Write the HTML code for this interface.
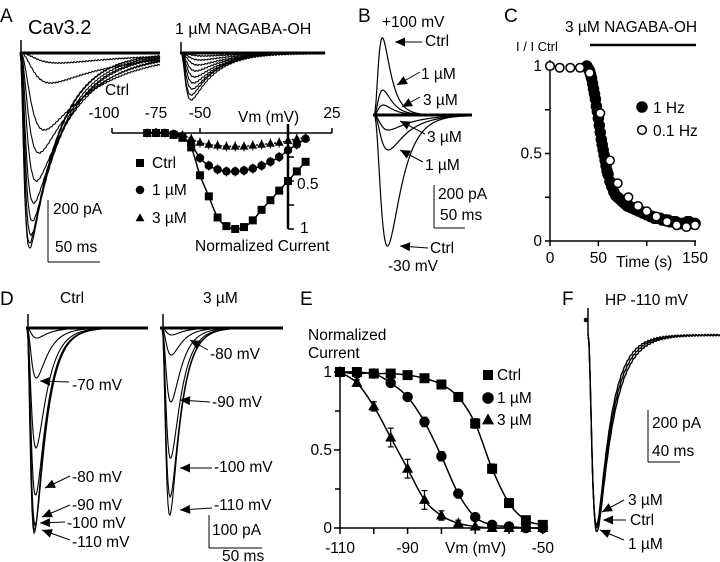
<!DOCTYPE html>
<html><head><meta charset="utf-8"><style>
html,body{margin:0;padding:0;background:#fff}
svg{display:block;font-family:"Liberation Sans",Arial,sans-serif}
text{fill:#000}
</style></head><body>
<svg id="fig" width="720" height="562" viewBox="0 0 720 562" xmlns="http://www.w3.org/2000/svg">
<g font-size="19">
<text x="0" y="22">A</text>
<text x="358" y="22">B</text>
<text x="504" y="22">C</text>
<text x="0" y="305">D</text>
<text x="300" y="305">E</text>
<text x="562" y="305">F</text>
</g>
<g font-size="15.5">
<text x="28" y="34" font-size="20">Cav3.2</text>
<text x="175" y="34" font-size="16">1 µM NAGABA-OH</text>
<text x="105" y="95">Ctrl</text>
<text x="53" y="214">200 pA</text>
<text x="55" y="252">50 ms</text>
<text x="238" y="122">Vm (mV)</text>
<text x="195" y="251">Normalized Current</text>
<text x="297" y="189">0.5</text>
<text x="300" y="233">1</text>
<text x="152" y="168">Ctrl</text>
<text x="152" y="195">1 µM</text>
<text x="152" y="223">3 µM</text>
</g>
<g font-size="15.5">
<text x="382" y="27">+100 mV</text>
<text x="425" y="46">Ctrl</text>
<text x="421" y="79">1 µM</text>
<text x="423" y="105">3 µM</text>
<text x="427" y="142">3 µM</text>
<text x="425" y="170">1 µM</text>
<text x="438" y="199">200 pA</text>
<text x="440" y="220">50 ms</text>
<text x="430" y="253">Ctrl</text>
<text x="388" y="271">-30 mV</text>
</g>
<g font-size="15.5">
<text x="565" y="32">3 µM NAGABA-OH</text>
<text x="516" y="51" font-size="13">I / I Ctrl</text>
<text x="653" y="113">1 Hz</text>
<text x="653" y="136">0.1 Hz</text>
<text x="616" y="267">Time (s)</text>
</g>
<g font-size="15.5">
<text x="60" y="303">Ctrl</text>
<text x="203" y="303">3 µM</text>
<text x="72" y="390">-70 mV</text>
<text x="72" y="482">-80 mV</text>
<text x="72" y="510">-90 mV</text>
<text x="67" y="528">-100 mV</text>
<text x="72" y="547">-110 mV</text>
<text x="210" y="359">-80 mV</text>
<text x="212" y="407">-90 mV</text>
<text x="214" y="472">-100 mV</text>
<text x="214" y="510">-110 mV</text>
<text x="212" y="535">100 pA</text>
<text x="222" y="561">50 ms</text>
</g>
<g font-size="15.5">
<text x="308" y="340">Normalized</text>
<text x="308" y="358">Current</text>
<text x="445" y="553">Vm (mV)</text>
<text x="497" y="380">Ctrl</text>
<text x="497" y="403">1 µM</text>
<text x="497" y="425">3 µM</text>
</g>
<g font-size="15.5">
<text x="605" y="305">HP -110 mV</text>
<text x="652" y="428">200 pA</text>
<text x="652" y="456">40 ms</text>
<text x="628" y="505">3 µM</text>
<text x="630" y="525">Ctrl</text>
<text x="628" y="549">1 µM</text>
</g>
</svg>
<script>
// ---- Panel A inset IV data (normalized current, 0..1) ----
const ivVolt = [-80,-75,-70,-65,-60,-55,-50,-45,-40,-35,-30,-25,-20,-15,-10,-5,0,5,10];
const ivCtrl = [0,0,0,0.02,0.05,0.15,0.44,0.66,0.88,0.97,1.0,0.98,0.91,0.8,0.7,0.6,0.5,0.4,0.3];
const iv1uM  = [0,0,0,0.01,0.04,0.12,0.26,0.34,0.38,0.4,0.4,0.39,0.37,0.34,0.3,0.25,0.18,0.12,0.06];
const iv3uM  = [0,0,0,0.01,0.02,0.06,0.1,0.12,0.13,0.14,0.14,0.14,0.13,0.12,0.11,0.1,0.08,0.06,0.05];
const ivTickLabels = ["-100","-75","-50","25"];
const ivTickVals = [-100,-75,-50,25];
// ---- Panel A trace families (peak amplitude px, time-to-peak px) ----
const aCtrlAmp = [195,190,182,168,150,128,100,77,30,10];
const aCtrlTp  = [6,6,7,8,9,11,13,17,22,28];
const a1Amp = [47,42,36,30,24,18,12,7,3];
const a1Tp  = [7,7,8,9,10,11,13,15,18];
// ---- Panel B ----
const bUpAmp = [77,25,10];
const bDownAmp = [131,35,15];
// ---- Panel C time course ----
const cOpenT = [0,10,21,31,41,52,62,70,81,91,100,110,121,131,141,150];
const cOpenV = [1,0.99,0.99,0.99,0.96,0.73,0.46,0.33,0.25,0.2,0.17,0.14,0.11,0.09,0.08,0.09];
const cFillT = [38,39,40,41,42,43,44,45,46,47,48,49,50,51,52,53,54,55,56,57,58,59,60,62,64,66,68,70,72,74,76,78,80,82,84,86,88,90,92,94,96,98,100,102,104,106,108,110,112,114,116,118,120,122,124,126,128,130,132,134,136,138,140,142,144,146,148,150];
const cFillV = [1,0.99,0.98,0.97,0.95,0.93,0.9,0.87,0.84,0.81,0.77,0.74,0.7,0.66,0.62,0.58,0.55,0.52,0.49,0.46,0.43,0.4,0.38,0.34,0.31,0.28,0.26,0.25,0.24,0.23,0.22,0.21,0.2,0.2,0.19,0.19,0.18,0.18,0.17,0.17,0.16,0.16,0.15,0.15,0.14,0.14,0.13,0.13,0.13,0.13,0.12,0.12,0.12,0.12,0.11,0.11,0.11,0.11,0.1,0.1,0.1,0.1,0.1,0.11,0.11,0.1,0.1,0.1];
const cXTicks = [0,50,150];
const cYTicks = [0,0.5,1];
// ---- Panel D ----
const dCtrlAmp = [10,50,120,167,197,202,205];
const d3Amp = [7,27,74,130,169,187];
// ---- Panel E inactivation ----
const eVolt = [-110,-105,-100,-95,-90,-85,-80,-75,-70,-65,-60,-55,-50];
const eCtrl = [1,1,0.99,0.99,0.98,0.96,0.92,0.84,0.67,0.38,0.16,0.05,0.02];
const e1uM  = [1,0.99,0.99,0.93,0.84,0.68,0.46,0.22,0.07,0.02,0.01,0,0];
const e3uM  = [1,0.93,0.78,0.58,0.38,0.18,0.08,0.03,0.01,0,0,0,0];
const eErr3 = [0,0.02,0.03,0.06,0.06,0.06,0.03,0.02,0,0,0,0,0];
const eErr1 = [0,0,0.01,0.02,0.02,0.03,0.03,0.02,0.02,0,0,0,0];
const eErrC = [0,0,0,0,0,0.01,0.02,0.02,0.03,0.03,0.02,0,0];
const eXTicks = [-110,-90,-50];
const eXAllTicks = [-110,-100,-90,-80,-70,-60,-50];
const eYTicks = [0,0.5,1];
// ---- Panel F ----
const fAmp = [190,193,197];

const NS="http://www.w3.org/2000/svg";
const svg=document.getElementById('fig');
function mk(tag,attrs,parent){const e=document.createElementNS(NS,tag);for(const k in attrs)e.setAttribute(k,attrs[k]);(parent||svg).appendChild(e);return e;}
function grp(name){const g=mk('g',{});


return g;}
function line(g,x1,y1,x2,y2,w){const l=mk('line',{x1:x1,y1:y1,x2:x2,y2:y2,stroke:'#000','stroke-width':w||1.5},g);


return l;}
function txt(g,x,y,s,anchor,size){const t=mk('text',{x:x,y:y,'text-anchor':anchor||'middle','font-size':size||15.5},g);t.textContent=s;


return t;}
function arrow(g,x1,y1,x2,y2){
  line(g,x1,y1,x2,y2,1);
  const a=Math.atan2(y2-y1,x2-x1),L=10,W=4.5;
  const bx=x2-L*Math.cos(a),by=y2-L*Math.sin(a);
  const p=mk('polygon',{points:`${x2},${y2} ${bx-W*Math.sin(a)},${by+W*Math.cos(a)} ${bx+W*Math.sin(a)},${by-W*Math.cos(a)}`,fill:'#000'},g);
  
  
}
function trace(g,x0,y0,len,amp,tp,td,w,noise){
  const tr=tp/2.2;let pts=[],mx=0,vals=[];
  for(let t=0;t<=len;t+=1){const s=Math.pow(1-Math.exp(-t/tr),3)*Math.exp(-t/td);vals.push(s);if(s>mx)mx=s;}
  for(let i=0;i<vals.length;i++){let jit=noise?((i%3)-1)*noise:0;pts.push((x0+i).toFixed(1)+','+(y0+amp*vals[i]/mx+jit).toFixed(1));}
  const p=mk('polyline',{points:pts.join(' '),fill:'none',stroke:'#000','stroke-width':w||1},g);
  
  
  return p;
}
function marker(g,type,x,y,r,fill){
  let e;
  if(type==='sq')e=mk('rect',{x:x-r,y:y-r,width:2*r,height:2*r,fill:'#000'},g);
  else if(type==='ci')e=mk('circle',{cx:x,cy:y,r:r,fill:fill||'#000',stroke:'#000','stroke-width':1.5},g);
  else e=mk('polygon',{points:`${x},${y-r*1.2} ${x-r*1.1},${y+r*0.8} ${x+r*1.1},${y+r*0.8}`,fill:'#000'},g);
  
  
  return e;
}
function smooth(g,pts,w,dash){
  let d='M'+pts[0][0]+','+pts[0][1];
  for(let i=0;i<pts.length-1;i++){const p0=pts[Math.max(0,i-1)],p1=pts[i],p2=pts[i+1],p3=pts[Math.min(pts.length-1,i+2)];
    d+=` C${p1[0]+(p2[0]-p0[0])/6},${p1[1]+(p2[1]-p0[1])/6} ${p2[0]-(p3[0]-p1[0])/6},${p2[1]-(p3[1]-p1[1])/6} ${p2[0]},${p2[1]}`;}
  const p=mk('path',{d:d,fill:'none',stroke:'#000','stroke-width':w||1.5},g);
  if(dash)p.setAttribute('stroke-dasharray',dash);
  
  
}

// ===== Panel A traces =====
(function(){
  const g=grp('panel-a-ctrl-traces');
  line(g,20,53,160,53,3);
  aCtrlAmp.forEach((a,i)=>trace(g,20,53,140,a,aCtrlTp[i],16+aCtrlTp[i]*2.4,1.1,0.5));
  line(g,21,53,21,40,1.5);
  const g2=grp('panel-a-1um-traces');
  line(g2,180,53,325,53,3);
  a1Amp.forEach((a,i)=>trace(g2,181,53,144,a,a1Tp[i],14+a1Tp[i]*1.5,1.1,0.5));
  line(g2,181,53,181,42,1.5);
  const s=grp('panel-a-scale-bar');
  line(s,48,200,48,262,1);line(s,48,262,100,262,1);
})();
// ===== Panel A inset IV =====
(function(){
  const g=grp('panel-a-iv-plot');
  const X=v=>200+(v+50)*1.76, Y=n=>133+n*96;
  line(g,X(-100),133,X(25),133,1.5);
  ivTickVals.forEach((v,i)=>{line(g,X(v),133,X(v),128,1.5);txt(g,X(v)+(i==0?-8:0),118,ivTickLabels[i]);});
  line(g,288,124,288,229,2.5);
  [0.25,0.5,0.75,1].forEach(n=>line(g,288,Y(n),294,Y(n),1.5));
  const pc=ivVolt.map((v,i)=>[X(v),Y(ivCtrl[i])]);
  const p1=ivVolt.map((v,i)=>[X(v),Y(iv1uM[i])]);
  const p3=ivVolt.map((v,i)=>[X(v),Y(iv3uM[i])]);
  smooth(g,pc,1.5);smooth(g,p1,1.5);smooth(g,p3,1.5,'2,1');
  ivVolt.forEach((v,i)=>{
    if(i>=5&&i<=17){line(g,X(v),Y(iv1uM[i])-5,X(v),Y(iv1uM[i])+5,1);line(g,X(v),Y(iv3uM[i])-5,X(v),Y(iv3uM[i])+5,1);}
    marker(g,'sq',X(v),Y(ivCtrl[i]),4);
    marker(g,'ci',X(v),Y(iv1uM[i]),3.5);
    marker(g,'tr',X(v),Y(iv3uM[i]),4);
  });
  marker(g,'sq',140,163,4);marker(g,'ci',140,190,3.5);marker(g,'tr',140,218,4);
})();
// ===== Panel B =====
(function(){
  const g=grp('panel-b-traces');
  line(g,373,115,472,115,3);
  const upTd=[8,9,10];
  bUpAmp.forEach((a,i)=>trace(g,374,115,98,-a,10,upTd[i],1.2));
  const dnTp=[15,13,12], dnTd=[14,20,24];
  bDownAmp.forEach((a,i)=>trace(g,374,115,98,a,dnTp[i],dnTd[i],1.2));
  arrow(g,422,42,395,42);arrow(g,420,72,397,85);arrow(g,420,97,402,107);
  arrow(g,425,134,400,121);arrow(g,423,162,400,150);arrow(g,428,248,400,246);
  line(g,434,185,434,228,1);line(g,434,228,465,228,1);
})();
// ===== Panel C =====
(function(){
  const g=grp('panel-c-timecourse');
  const X=t=>550+t*0.967, Y=n=>241-n*175;
  line(g,550,60,550,241,1.5);line(g,550,241,696,241,1.5);
  cYTicks.forEach(n=>{line(g,545,Y(n),550,Y(n),1.5);txt(g,542,Y(n)+5,String(n),'end');});
  [0.25,0.75].forEach(n=>line(g,545,Y(n),550,Y(n),1.5));
  cXTicks.forEach(t=>{txt(g,X(t),263,String(t));});
  [0,50,100,150].forEach(t=>line(g,X(t),241,X(t),246,1.5));
  line(g,590,45,696,45,2.5);
  cFillT.forEach((t,i)=>marker(g,'ci',X(t),Y(cFillV[i]),5));
  cOpenT.forEach((t,i)=>marker(g,'ci',X(t),Y(cOpenV[i]),4.3,'#fff'));
  marker(g,'ci',642,107,5);marker(g,'ci',642,130,4.3,'#fff');
})();
// ===== Panel D =====
(function(){
  const g=grp('panel-d-ctrl-traces');
  line(g,26,328,148,328,3);
  dCtrlAmp.forEach((a,i)=>trace(g,27,328,121,a,6+(dCtrlAmp.length-1-i)*0.6,12,1.1));
  line(g,28,328,28,314,1.5);
  arrow(g,69,382,40,381);arrow(g,70,476,45,488);arrow(g,70,505,42,517);
  arrow(g,65,522,40,523);arrow(g,70,540,42,530);
  const g2=grp('panel-d-3um-traces');
  line(g2,160,328,283,328,3);
  d3Amp.forEach((a,i)=>trace(g2,162,328,121,a,7+(d3Amp.length-1-i)*0.6,11,1.1));
  line(g2,163,328,163,314,1.5);
  arrow(g2,208,350,190,340);arrow(g2,210,402,180,400);arrow(g2,212,468,180,468);arrow(g2,212,508,180,510);
  line(g2,209,515,209,548,1);line(g2,209,548,262,548,1);
})();
// ===== Panel E =====
(function(){
  const g=grp('panel-e-inactivation');
  const X=v=>340+(v+110)*3.38, Y=n=>528-n*156;
  line(g,340,368,340,528,1.5);line(g,340,528,546,528,1.5);
  eYTicks.forEach(n=>{line(g,334,Y(n),340,Y(n),1.5);txt(g,332,Y(n)+5,String(n),'end');});
  [0.25,0.75].forEach(n=>line(g,335,Y(n),340,Y(n),1.5));
  eXAllTicks.forEach(v=>line(g,X(v),528,X(v),534,1.5));
  eXTicks.forEach(v=>txt(g,X(v),553,String(v)));
  const sets=[[eCtrl,eErrC,'sq'],[e1uM,eErr1,'ci'],[e3uM,eErr3,'tr']];
  sets.forEach(([vals,err,m])=>{
    smooth(g,eVolt.map((v,i)=>[X(v),Y(vals[i])]),1.5);
    eVolt.forEach((v,i)=>{
      if(err[i]>0){const x=X(v);line(g,x,Y(vals[i]+err[i]),x,Y(vals[i]-err[i]),1.2);
        line(g,x-3,Y(vals[i]+err[i]),x+3,Y(vals[i]+err[i]),1.2);line(g,x-3,Y(vals[i]-err[i]),x+3,Y(vals[i]-err[i]),1.2);}
      marker(g,m,X(v),Y(vals[i]),m==='ci'?4.5:5);
    });
  });
  marker(g,'sq',488,375,5);marker(g,'ci',488,398,5);marker(g,'tr',488,420,5.5);
})();
// ===== Panel F =====
(function(){
  const g=grp('panel-f-traces');
  const td=[14,15,16];
  fAmp.forEach((a,i)=>trace(g,588,335,132,a,7,td[i],1.4,0.6));
  line(g,588,335,588,308,1.5);
  marker(g,'ci',586,320,1.5);
  arrow(g,624,500,602,512);arrow(g,626,520,603,520);arrow(g,624,540,600,530);
  line(g,648,410,648,462,1);line(g,648,462,680,462,1);
})();
</script>
</body></html>
